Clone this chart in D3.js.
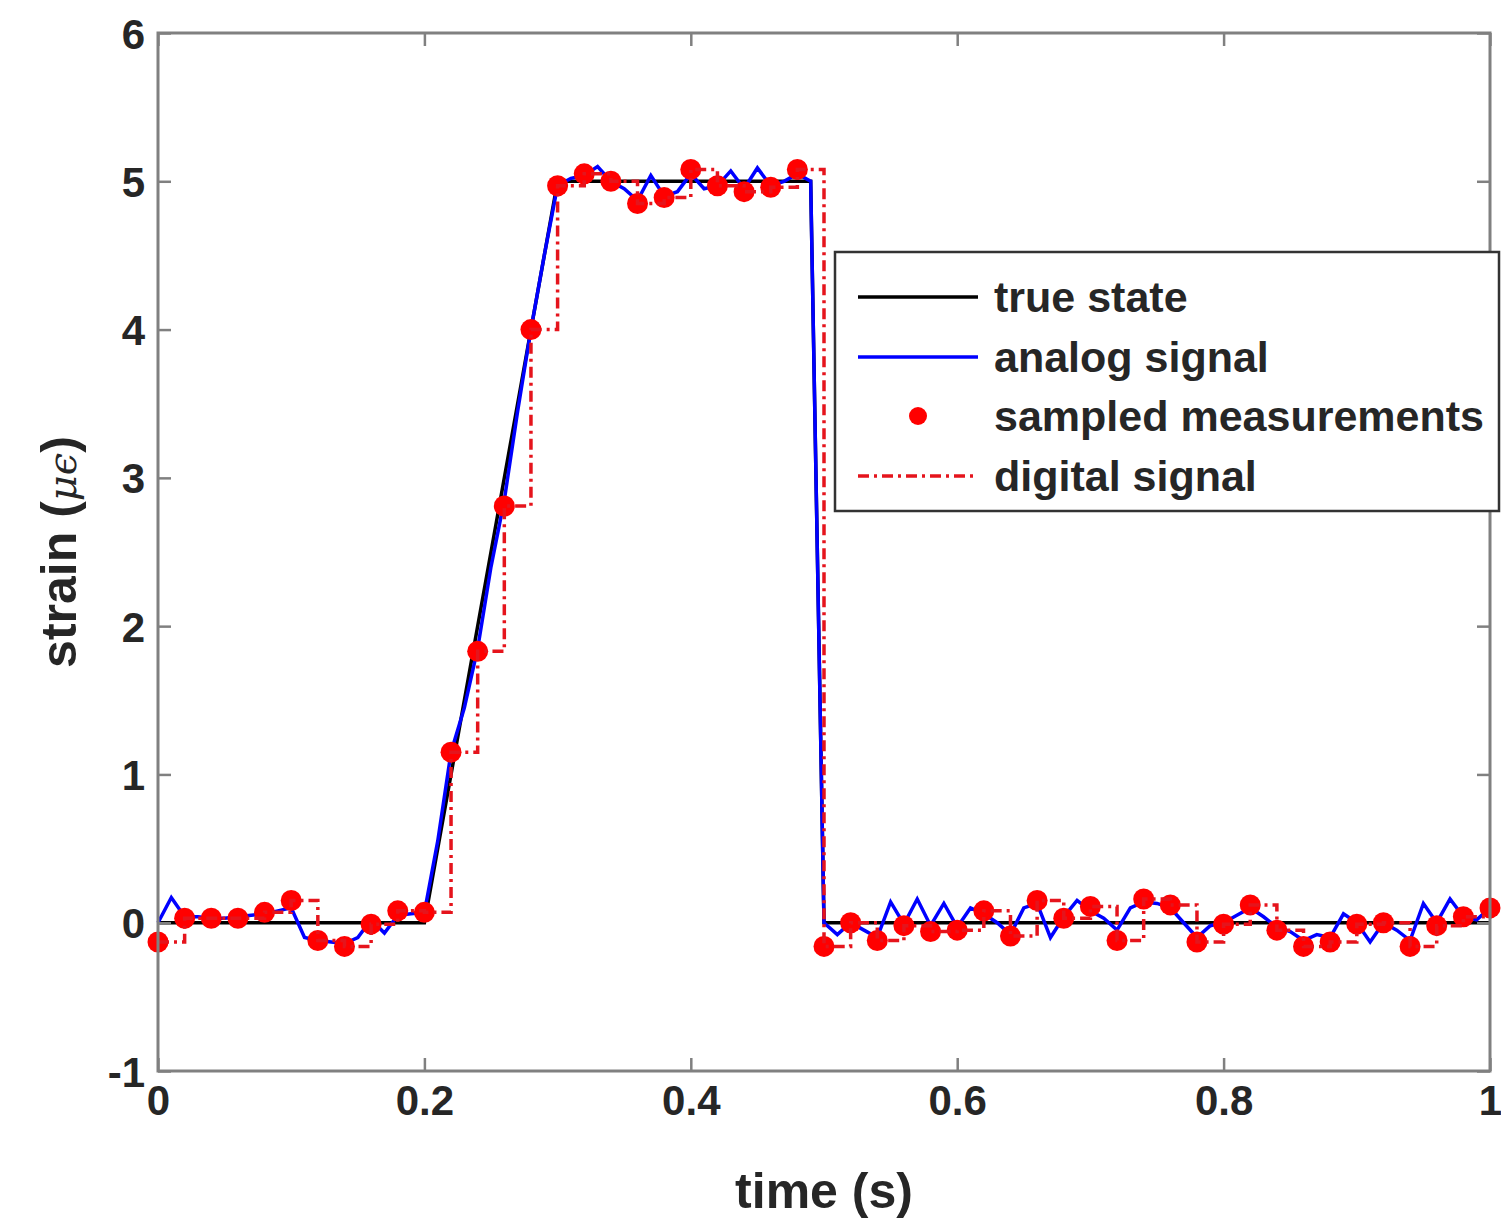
<!DOCTYPE html>
<html>
<head>
<meta charset="utf-8">
<script src="https://cdn.jsdelivr.net/npm/d3@7"></script>
<style>
  html, body { margin: 0; padding: 0; background: #fff; }
  svg { display: block; }
</style>
</head>
<body>
<svg id="chart" width="1501" height="1227"></svg>
<script>
// ---------- data ----------
const xTicks = [0, 0.2, 0.4, 0.6, 0.8, 1];
const xTickLabels = ["0", "0.2", "0.4", "0.6", "0.8", "1"];
const yTicks = [-1, 0, 1, 2, 3, 4, 5, 6];
const yTickLabels = ["-1", "0", "1", "2", "3", "4", "5", "6"];

// true state (piecewise)
const trueT = [0, 0.2, 0.3, 0.49, 0.5, 1.0];
const trueV = [0, 0, 5, 5, 0, 0];

// analog signal, every 0.01 s
const analogT = d3.range(0, 101).map(i => i / 100);
const analogV = [
  0.00, 0.17, 0.04, 0.04, 0.03, 0.03, 0.04, 0.05, 0.06, 0.08,
  0.10, -0.10, -0.12, -0.13, -0.14, -0.10, 0.02, -0.07, 0.05, 0.06,
  0.07, 0.55, 1.15, 1.45, 1.85, 2.40, 2.85, 3.45, 4.00, 4.50,
  4.97, 5.02, 5.04, 5.10, 5.00, 4.95, 4.87, 5.04, 4.90, 4.93,
  5.05, 4.95, 4.97, 5.07, 4.95, 5.09, 4.97, 5.00, 5.05, 5.00,
  0.00, -0.08, 0.00, -0.05, -0.10, 0.14, -0.01, 0.16, -0.02, 0.13,
  -0.03, 0.10, 0.06, 0.00, -0.08, 0.10, 0.13, -0.10, 0.04, 0.15,
  0.08, 0.03, -0.05, 0.10, 0.14, 0.13, 0.10, 0.00, -0.10, -0.02,
  0.00, 0.05, 0.10, 0.04, -0.03, -0.06, -0.12, -0.08, -0.10, 0.06,
  0.00, -0.13, 0.00, -0.05, -0.12, 0.13, 0.00, 0.16, 0.04, 0.02,
  0.10
];

// sampled measurements, every 0.02 s
const sampleT = d3.range(0, 51).map(i => i / 50);
const sampleV = [
  -0.13, 0.03, 0.03, 0.03, 0.07, 0.15, -0.12, -0.16, -0.01, 0.08,
  0.07, 1.15, 1.83, 2.81, 4.00, 4.97, 5.05, 5.00, 4.85, 4.89,
  5.08, 4.97, 4.93, 4.96, 5.08, -0.16, 0.00, -0.12, -0.02, -0.06,
  -0.05, 0.08, -0.09, 0.15, 0.03, 0.11, -0.12, 0.16, 0.12, -0.13,
  -0.01, 0.12, -0.05, -0.16, -0.13, -0.01, 0.00, -0.16, -0.02, 0.04,
  0.10
];

const legendLabels = ["true state", "analog signal", "sampled measurements", "digital signal"];

// ---------- layout ----------
const svg = d3.select("#chart");
const L = 158, R = 1490, T = 33, B = 1071;
const x = d3.scaleLinear().domain([0, 1]).range([L, R]);
const y = d3.scaleLinear().domain([-1, 6]).range([B, T]);
const axisColor = "#808080";
const font = "'Liberation Sans', Arial, Helvetica, sans-serif";

svg.append("rect").attr("x", 0).attr("y", 0).attr("width", 1501).attr("height", 1227).attr("fill", "#fff");

// ---------- series ----------
const plot = svg.append("g");
const line = d3.line().x(d => x(d[0])).y(d => y(d[1]));

plot.append("path")
  .datum(trueT.map((t, i) => [t, trueV[i]]))
  .attr("d", line)
  .attr("fill", "none").attr("stroke", "#000").attr("stroke-width", 3.5);

plot.append("path")
  .datum(analogT.map((t, i) => [t, analogV[i]]))
  .attr("d", line)
  .attr("fill", "none").attr("stroke", "#0000ff").attr("stroke-width", 3.5)
  .attr("stroke-linejoin", "miter");

plot.selectAll("circle.sample")
  .data(sampleT.map((t, i) => [t, sampleV[i]]))
  .join("circle")
  .attr("class", "sample")
  .attr("cx", d => x(d[0])).attr("cy", d => y(d[1]))
  .attr("r", 10.5).attr("fill", "#ff0000");

const stepLine = d3.line().x(d => x(d[0])).y(d => y(d[1])).curve(d3.curveStepAfter);
plot.append("path")
  .datum(sampleT.map((t, i) => [t, sampleV[i]]))
  .attr("d", stepLine)
  .attr("fill", "none").attr("stroke", "#e5141c").attr("stroke-width", 3.5)
  .attr("stroke-dasharray", "11,5,3,5");

// ---------- axes ----------
const tickLen = 13;
const gx = svg.append("g").attr("transform", `translate(0,${B})`)
  .call(d3.axisBottom(x).tickValues(xTicks).tickFormat((d, i) => xTickLabels[i])
    .tickSizeInner(-tickLen).tickSizeOuter(0).tickPadding(0));
gx.select(".domain").remove();
gx.selectAll("line").attr("stroke", axisColor).attr("stroke-width", 2.5);
gx.selectAll("text").attr("y", 44).attr("font-family", font).attr("font-weight", "bold")
  .attr("font-size", 42).attr("fill", "#262626").attr("dy", 0);

const gxt = svg.append("g").attr("transform", `translate(0,${T})`)
  .call(d3.axisTop(x).tickValues(xTicks).tickFormat("").tickSizeInner(-tickLen).tickSizeOuter(0));
gxt.select(".domain").remove();
gxt.selectAll("line").attr("stroke", axisColor).attr("stroke-width", 2.5);

const gy = svg.append("g").attr("transform", `translate(${L},0)`)
  .call(d3.axisLeft(y).tickValues(yTicks).tickFormat((d, i) => yTickLabels[i])
    .tickSizeInner(-tickLen).tickSizeOuter(0).tickPadding(0));
gy.select(".domain").remove();
gy.selectAll("line").attr("stroke", axisColor).attr("stroke-width", 2.5);
gy.selectAll("text").attr("x", -13).attr("dy", "0.36em").attr("font-family", font)
  .attr("font-weight", "bold").attr("font-size", 42).attr("fill", "#262626");

const gyr = svg.append("g").attr("transform", `translate(${R},0)`)
  .call(d3.axisRight(y).tickValues(yTicks).tickFormat("").tickSizeInner(-tickLen).tickSizeOuter(0));
gyr.select(".domain").remove();
gyr.selectAll("line").attr("stroke", axisColor).attr("stroke-width", 2.5);

svg.append("rect").attr("x", L).attr("y", T).attr("width", R - L).attr("height", B - T)
  .attr("fill", "none").attr("stroke", axisColor).attr("stroke-width", 3);

// axis titles
svg.append("text")
  .attr("x", (L + R) / 2).attr("y", 1208)
  .attr("text-anchor", "middle").attr("font-family", font).attr("font-weight", "bold")
  .attr("font-size", 50).attr("fill", "#262626")
  .text("time (s)");

const yl = svg.append("text")
  .attr("transform", `translate(76,${(T + B) / 2}) rotate(-90)`)
  .attr("text-anchor", "middle").attr("font-family", font).attr("font-weight", "bold")
  .attr("font-size", 50).attr("fill", "#262626");
yl.append("tspan").text("strain (");
yl.append("tspan").attr("font-family", "'DejaVu Serif', 'Liberation Serif', serif")
  .attr("font-style", "italic").attr("font-weight", "normal").attr("font-size", 40).text("μϵ");
yl.append("tspan").text(")");

// ---------- legend ----------
const lg = svg.append("g");
lg.append("rect").attr("x", 835).attr("y", 252).attr("width", 664).attr("height", 259)
  .attr("fill", "#fff").attr("stroke", "#333").attr("stroke-width", 2.5);
const rows = [297, 357, 416, 476];
const lx0 = 858, lx1 = 978;
lg.append("line").attr("x1", lx0).attr("x2", lx1).attr("y1", rows[0]).attr("y2", rows[0])
  .attr("stroke", "#000").attr("stroke-width", 3.5);
lg.append("line").attr("x1", lx0).attr("x2", lx1).attr("y1", rows[1]).attr("y2", rows[1])
  .attr("stroke", "#0000ff").attr("stroke-width", 3.5);
lg.append("circle").attr("cx", (lx0 + lx1) / 2).attr("cy", rows[2]).attr("r", 9).attr("fill", "#ff0000");
lg.append("line").attr("x1", lx0).attr("x2", lx1).attr("y1", rows[3]).attr("y2", rows[3])
  .attr("stroke", "#e5141c").attr("stroke-width", 3.5).attr("stroke-dasharray", "11,5,3,5");
lg.selectAll("text.lab").data(legendLabels).join("text")
  .attr("class", "lab")
  .attr("x", 994).attr("y", (d, i) => rows[i]).attr("dy", "0.36em")
  .attr("font-family", font).attr("font-weight", "bold").attr("font-size", 43)
  .attr("fill", "#262626").text(d => d);
</script>
</body>
</html>
